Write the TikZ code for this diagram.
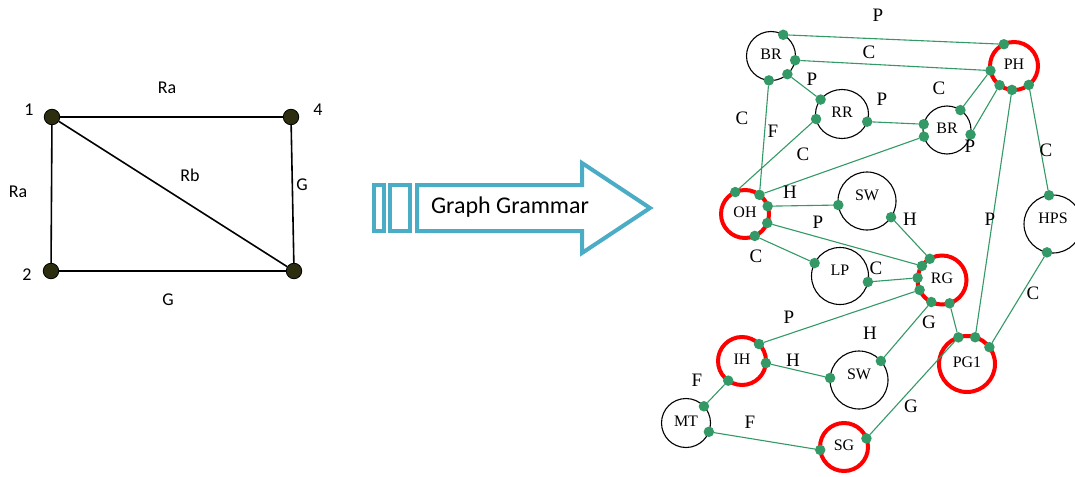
\documentclass[tikz,border=0pt]{standalone}
\usepackage{fontspec}
\setmainfont{Liberation Serif}
\newfontfamily\calib{Carlito}
\usetikzlibrary{shapes.geometric}
\definecolor{dotgreen}{RGB}{51,153,102}
\definecolor{arrowblue}{RGB}{75,172,198}
\definecolor{olivedot}{RGB}{45,45,15}
\begin{document}
\begin{tikzpicture}[x=1pt,y=-1pt,
  ldot/.style={circle,draw=black,fill=olivedot,line width=0.8pt,minimum size=15.5pt,inner sep=0pt},
  lline/.style={draw=black,line width=1.6pt},
  llab/.style={font=\calib\fontsize{18}{18}\selectfont,inner sep=0pt},
  ablue/.style={draw=arrowblue,line width=4pt,line join=miter},
  vtx/.style={circle,draw=black,line width=1.1pt,minimum size=#1,inner sep=0pt,outer sep=0pt,
    font=\fontsize{16}{16}\selectfont,text depth=3pt},
  hot/.style={circle,draw=red,line width=4pt,minimum size=#1,inner sep=0pt,outer sep=0pt,
    font=\fontsize{16}{16}\selectfont,text depth=3pt},
  port/.style={circle,fill=dotgreen,inner sep=0pt,minimum size=10.5pt,outer sep=0pt},
  link/.style={draw=dotgreen,line width=1.1pt},
  elab/.style={font=\fontsize{19}{19}\selectfont,inner sep=0pt}]
\useasboundingbox (0,0) rectangle (1075,476);

% ---------- left graph ----------
\node[ldot] (n1) at (52,117) {};
\node[ldot] (n4) at (291,117) {};
\node[ldot] (n2) at (51,271) {};
\node[ldot] (n3) at (294,271) {};
\draw[lline] (n1) -- (n4);
\draw[lline] (n1) -- (n2);
\draw[lline] (n1) -- (n3);
\draw[lline] (n4) -- (n3);
\draw[lline] (n2) -- (n3);
\node[llab] (l1) at (29,110) {1};
\node[llab] (l4) at (318,110) {4};
\node[llab] (l2) at (27,275) {2};
\node[llab] (lra1) at (167,88) {Ra};
\node[llab] (lra2) at (18,192) {Ra};
\node[llab] (lrb) at (190,175) {Rb};
\node[llab] (lg1) at (302,185) {G};
\node[llab] (lg2) at (168,300) {G};

% ---------- arrow ----------
\draw[ablue] (374,185) rectangle (384,231);
\draw[ablue] (390,185) rectangle (410,231);
\draw[ablue] (417,185) -- (582,185) -- (582,163) -- (650,208) -- (582,253) -- (582,231) -- (417,231) -- cycle;
\node[font=\calib\fontsize{24}{24}\selectfont,inner sep=0pt] (gg) at (510,207) {Graph Grammar};

% ---------- right graph: vertices ----------
\node[vtx=49pt] (br1) at (771,56) {BR};
\node[hot=48pt] (ph) at (1014,66) {PH};
\node[ellipse,draw=black,line width=1.1pt,minimum width=53pt,minimum height=49pt,inner sep=0pt,outer sep=0pt,
  font=\fontsize{16}{16}\selectfont,text depth=3pt] (rr) at (842,114) {RR};
\node[vtx=48pt] (br2) at (947,130) {BR};
\node[hot=48pt] (oh) at (745,214) {OH};
\node[vtx=58pt,text depth=12pt] (sw1) at (867,201) {SW};
\node[vtx=57pt,text depth=12pt] (lp) at (840,276) {LP};
\node[hot=49pt] (rg) at (942,280) {RG};
\node[vtx=58pt,text depth=12pt] (hps) at (1053,224) {HPS};
\node[hot=48pt] (ih) at (742,361) {IH};
\node[vtx=58pt,text depth=12pt] (sw2) at (859,380) {SW};
\node[hot=56pt] (pg1) at (967,364) {PG1};
\node[vtx=49pt] (mt) at (686,423) {MT};
\node[hot=48pt] (sg) at (844,447) {SG};

% ---------- ports ----------
\node[port] (br1a) at (br1.60) {};
\node[port] (br1b) at (br1.-10) {};
\node[port] (br1c) at (br1.-48) {};
\node[port] (br1d) at (br1.-95) {};
\node[port] (pha) at (ph.115) {};
\node[port] (phb) at (ph.-169) {};
\node[port] (phc) at (ph.-127) {};
\node[port] (phd) at (ph.-95) {};
\node[port] (phe) at (ph.-52) {};
\node[port] (rra) at (rr.146) {};
\node[port] (rrb) at (rr.191) {};
\node[port] (rrc) at (rr.-17) {};
\node[port] (br2a) at (br2.166) {};
\node[port] (br2b) at (br2.196) {};
\node[port] (br2c) at (br2.56) {};
\node[port] (br2d) at (br2.-11) {};
\node[port] (oha) at (oh.114) {};
\node[port] (ohb) at (oh.53) {};
\node[port] (ohc) at (oh.19) {};
\node[port] (ohd) at (oh.-22) {};
\node[port] (ohe) at (oh.-66) {};
\node[port] (sw1a) at (sw1.188) {};
\node[port] (sw1b) at (sw1.-34) {};
\node[port] (lpa) at (lp.153) {};
\node[port] (lpb) at (lp.-12) {};
\node[port] (rga) at (rg.120) {};
\node[port] (rgb) at (rg.145) {};
\node[port] (rgc) at (rg.175) {};
\node[port] (rgd) at (rg.204) {};
\node[port] (rge) at (rg.244) {};
\node[port] (rgf) at (rg.-72) {};
\node[port] (hpsa) at (hps.98) {};
\node[port] (hpsb) at (hps.-102) {};
\node[port] (iha) at (ih.45) {};
\node[port] (ihb) at (ih.-5) {};
\node[port] (ihc) at (ih.-125) {};
\node[port] (sw2a) at (sw2.176) {};
\node[port] (sw2b) at (sw2.41) {};
\node[port] (pg1a) at (pg1.108) {};
\node[port] (pg1b) at (pg1.73) {};
\node[port] (pg1c) at (pg1.37) {};
\node[port] (mta) at (mt.43) {};
\node[port] (mtb) at (mt.-21) {};
\node[port] (sga) at (sg.187) {};
\node[port] (sgb) at (sg.21) {};

% ---------- links ----------
\draw[link] (br1a) -- (pha);
\draw[link] (br1b) -- (phb);
\draw[link] (br1c) -- (rra);
\draw[link] (br1d) -- (ohb);
\draw[link] (rrb) -- (oha);
\draw[link] (rrc) -- (br2a);
\draw[link] (br2c) -- (phb);
\draw[link] (br2d) -- (phc);
\draw[link] (br2b) -- (ohb);
\draw[link] (phd) -- (pg1b);
\draw[link] (phe) -- (hpsa);
\draw[link] (ohc) -- (sw1a);
\draw[link] (ohd) -- (rgb);
\draw[link] (ohe) -- (lpa);
\draw[link] (sw1b) -- (rga);
\draw[link] (lpb) -- (rgc);
\draw[link] (rgd) -- (iha);
\draw[link] (rge) -- (sw2b);
\draw[link] (rgf) -- (pg1a);
\draw[link] (hpsb) -- (pg1c);
\draw[link] (ihb) -- (sw2a);
\draw[link] (ihc) -- (mta);
\draw[link] (mtb) -- (sga);
\draw[link] (sgb) -- (pg1a);

% ---------- link labels ----------
\node[elab] (t1) at (878,15) {P};
\node[elab] (t2) at (869,52) {C};
\node[elab] (t3) at (812,79) {P};
\node[elab] (t4) at (882,99) {P};
\node[elab] (t5) at (939,88) {C};
\node[elab] (t6) at (970,146) {P};
\node[elab] (t7) at (742,118) {C};
\node[elab] (t8) at (773,131) {F};
\node[elab] (t9) at (803,154) {C};
\node[elab] (t10) at (1046,150) {C};
\node[elab] (t11) at (790,192) {H};
\node[elab] (t12) at (818,222) {P};
\node[elab] (t13) at (910,219) {H};
\node[elab] (t14) at (990,219) {P};
\node[elab] (t15) at (756,256) {C};
\node[elab] (t16) at (876,268) {C};
\node[elab] (t17) at (1033,293) {C};
\node[elab] (t18) at (789,317) {P};
\node[elab] (t19) at (929,322) {G};
\node[elab] (t20) at (870,333) {H};
\node[elab] (t21) at (793,360) {H};
\node[elab] (t22) at (697,380) {F};
\node[elab] (t23) at (911,406) {G};
\node[elab] (t24) at (750,422) {F};
\end{tikzpicture}
\end{document}
